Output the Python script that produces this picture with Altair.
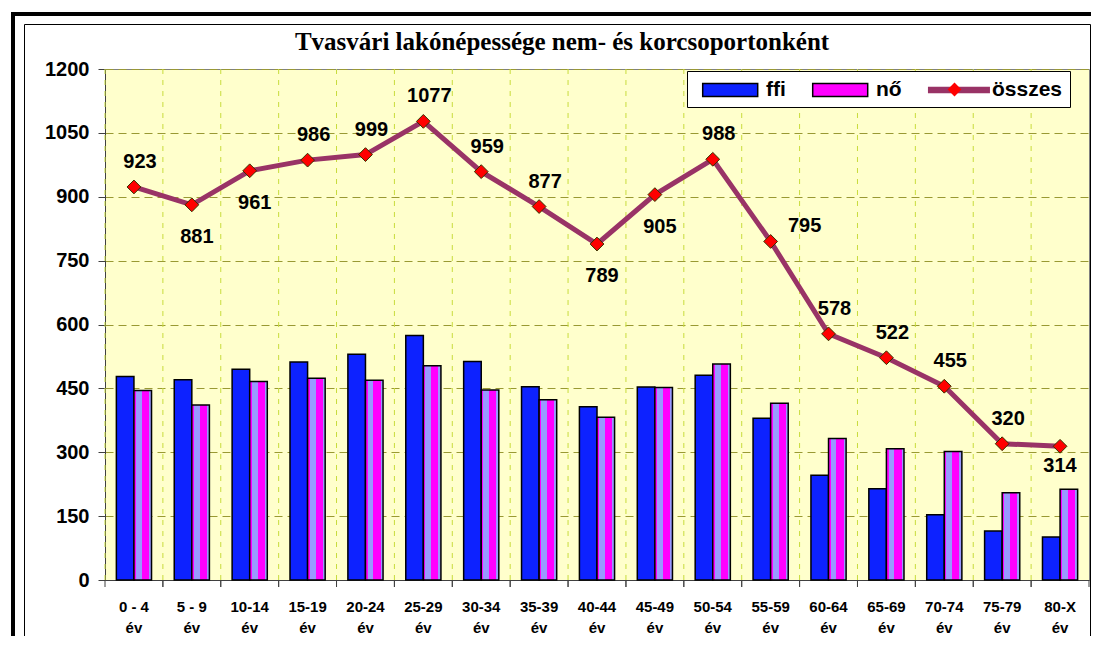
import altair as alt
import pandas as pd

# ---------------- data ----------------
categories = ["0 - 4", "5 - 9", "10-14", "15-19", "20-24", "25-29", "30-34", "35-39",
              "40-44", "45-49", "50-54", "55-59", "60-64", "65-69", "70-74", "75-79", "80-X"]
ffi = [478, 470, 495, 512, 530, 574, 513, 454, 407, 453, 481, 380, 246, 214, 153, 115, 101]
no = [445, 411, 466, 474, 469, 503, 446, 423, 382, 452, 507, 415, 332, 308, 302, 205, 213]
osszes = [923, 881, 961, 986, 999, 1077, 959, 877, 789, 905, 988, 795, 578, 522, 455, 320, 314]
sexes = ["ffi", "nő"]
series = ["ffi", "nő", "összes"]
y_ticks = [0, 150, 300, 450, 600, 750, 900, 1050, 1200]
labels_below = ["5 - 9", "10-14", "40-44", "45-49"]
labels_below_near = ["80-X"]
labels_right = ["55-59"]

bars_df = pd.DataFrame({
    "cat": categories * 2,
    "sex": ["ffi"] * len(categories) + ["nő"] * len(categories),
    "value": ffi + no,
})
tot_df = pd.DataFrame({"cat": categories, "total": osszes})
tot_df["side"] = ["below" if c in labels_below else
                  ("near" if c in labels_below_near else
                   ("right" if c in labels_right else "above"))
                  for c in categories]
legend_df = pd.DataFrame({"series": series})
legend2_df = pd.DataFrame({"d": ["összes"]})
one_df = pd.DataFrame({"k": [0]})

# ---------------- style ----------------
FONT = "Liberation Sans"
BLUE = "#0D22FF"
MAGENTA = "#FF00FF"
LAVENDER = "#9999FF"
LINE = "#993366"

no_fill = {
    "gradient": "linear", "x1": 0, "x2": 1, "y1": 0, "y2": 0,
    "stops": [
        {"offset": 0.0, "color": MAGENTA}, {"offset": 0.12, "color": MAGENTA},
        {"offset": 0.12, "color": LAVENDER}, {"offset": 0.45, "color": LAVENDER},
        {"offset": 0.45, "color": MAGENTA}, {"offset": 0.86, "color": MAGENTA},
        {"offset": 0.86, "color": LAVENDER}, {"offset": 1.0, "color": LAVENDER},
    ],
}

xscale = alt.Scale(domain=categories, paddingInner=0, paddingOuter=0)
yscale = alt.Scale(domain=[0, 1200], nice=False)

x_axis = alt.Axis(title=None, labelAngle=0, labelExpr="[datum.label, 'év']",
                  labelFont=FONT, labelFontSize=15, labelFontWeight="bold",
                  labelColor="black", labelPadding=19, labelLineHeight=21,
                  labelBaseline="top", ticks=False, grid=False,
                  domainColor="#404040", domainWidth=1)
y_axis = alt.Axis(title=None, values=y_ticks, format="d", labelFont=FONT, labelFontSize=20,
                  labelFontWeight="bold", labelColor="black", labelPadding=9,
                  tickSize=7, tickColor="#404040", domainColor="#404040",
                  gridColor="#999933", gridDash=[8, 5], gridWidth=1)

X = alt.X("cat:N", scale=xscale, axis=x_axis)

# ---------------- frame decoration ----------------
frame_inner = alt.Chart(one_df).mark_rect(fill="transparent", stroke="black", strokeWidth=1).encode(
    x=alt.value(-80.5), x2=alt.value(985.5), y=alt.value(-44.5), y2=alt.value(620))
frame_left = alt.Chart(one_df).mark_rule(color="black", strokeWidth=4).encode(
    x=alt.value(-92), y=alt.value(-57), y2=alt.value(620))
frame_top = alt.Chart(one_df).mark_rule(color="black", strokeWidth=4).encode(
    x=alt.value(-94), x2=alt.value(1000), y=alt.value(-55))

# ---------------- grid / ticks at category boundaries ----------------
vgrid = alt.Chart(tot_df).mark_rule(color="#C8DC3C", strokeDash=[5, 6], strokeWidth=1).encode(
    x=alt.X("cat:N", bandPosition=0, scale=xscale, axis=x_axis))
ticks0 = alt.Chart(tot_df).mark_rule(color="#404040").encode(
    x=alt.X("cat:N", bandPosition=0, scale=xscale, axis=x_axis),
    y=alt.value(511), y2=alt.value(518))
ticks1 = alt.Chart(tot_df).mark_rule(color="#404040").encode(
    x=alt.X("cat:N", bandPosition=1, scale=xscale, axis=x_axis),
    y=alt.value(511), y2=alt.value(518))

# ---------------- bars ----------------
bars = alt.Chart(bars_df).mark_bar(stroke="black", strokeWidth=1.5).encode(
    x=X,
    xOffset=alt.XOffset("sex:N", scale=alt.Scale(domain=sexes, paddingInner=0, paddingOuter=0.646)),
    y=alt.Y("value:Q", scale=yscale, axis=y_axis),
    fill=alt.condition("datum.sex == 'ffi'", alt.value(BLUE), alt.value(no_fill)),
)

# ---------------- total line ----------------
Ytot = alt.Y("total:Q", scale=yscale, axis=y_axis)
line = alt.Chart(tot_df).mark_line(color=LINE, strokeWidth=5).encode(x=X, y=Ytot)
points = alt.Chart(tot_df).mark_point(shape="diamond", filled=True, fill="#FF0000",
                                      stroke="#333300", strokeWidth=1, size=190,
                                      opacity=1).encode(x=X, y=Ytot)

def labels(side, dx, dy):
    return alt.Chart(tot_df).transform_filter(alt.datum.side == side).mark_text(
        font=FONT, fontSize=20, fontWeight="bold", color="black", dx=dx, dy=dy,
        align="center", baseline="middle").encode(x=X, y=Ytot, text="total:Q")

lab_above = labels("above", 6, -25)
lab_below = labels("below", 5, 32)
lab_near = labels("near", 0, 20)
lab_right = labels("right", 34, -15)

# ---------------- legend (hidden marks) ----------------
box_path = "M-0.3,-0.6H4.7V0.6H-0.3Z"
line_path = "M-0.3,-0.22H5.2V0.22H-0.3Z"
leg = alt.Legend(orient="none", legendX=582, legendY=2, direction="horizontal", columns=3,
                 title=None, labelFont=FONT, labelFontSize=21, labelFontWeight="bold",
                 labelColor="black", symbolSize=484, symbolStrokeWidth=1.5, symbolOpacity=1,
                 fillColor="white", strokeColor="black", padding=7, labelOffset=48,
                 columnPadding=18, zindex=1)
legend_layer = alt.Chart(legend_df).mark_point(filled=True, opacity=0).encode(
    x=alt.value(0), y=alt.value(0),
    color=alt.Color("series:N", scale=alt.Scale(domain=series, range=[BLUE, MAGENTA, LINE]), legend=leg),
    shape=alt.Shape("series:N", scale=alt.Scale(domain=series, range=[box_path, box_path, line_path]), legend=leg),
    stroke=alt.Stroke("series:N", scale=alt.Scale(domain=series, range=["black", "black", LINE]), legend=leg),
)
leg2 = alt.Legend(orient="none", legendX=842, legendY=13, title=None, labelExpr="''",
                  symbolType="diamond", symbolFillColor="#FF0000", symbolStrokeColor="#333300",
                  symbolStrokeWidth=1, symbolOpacity=1, padding=0, labelFontSize=1, labelOffset=0,
                  zindex=5)
legend2_layer = alt.Chart(legend2_df).mark_point(filled=True, opacity=0, color="#FF0000").encode(
    x=alt.value(0), y=alt.value(0),
    size=alt.Size("d:O", scale=alt.Scale(domain=["összes"], range=[190, 190]), legend=leg2),
)

chart = alt.layer(
    frame_inner, frame_left, frame_top, vgrid, ticks0, ticks1, bars, line, points,
    lab_above, lab_below, lab_near, lab_right, legend_layer, legend2_layer,
).properties(
    width=984, height=511,
    autosize=alt.AutoSizeParams(type="none"),
    padding={"left": 97, "top": 61, "right": 2, "bottom": 56},
    background="white",
    title=alt.TitleParams("Tvasvári lakónépessége nem- és korcsoportonként",
                          font="Liberation Serif", fontSize=25, fontWeight="bold",
                          color="black", anchor="middle", frame="group", dx=-35,
                          offset=0, dy=65, baseline="alphabetic"),
).configure_view(fill="#FFFFCC", stroke="#808080", strokeWidth=1)

chart.save("out.html", embed_options={"renderer": "svg", "actions": False})
